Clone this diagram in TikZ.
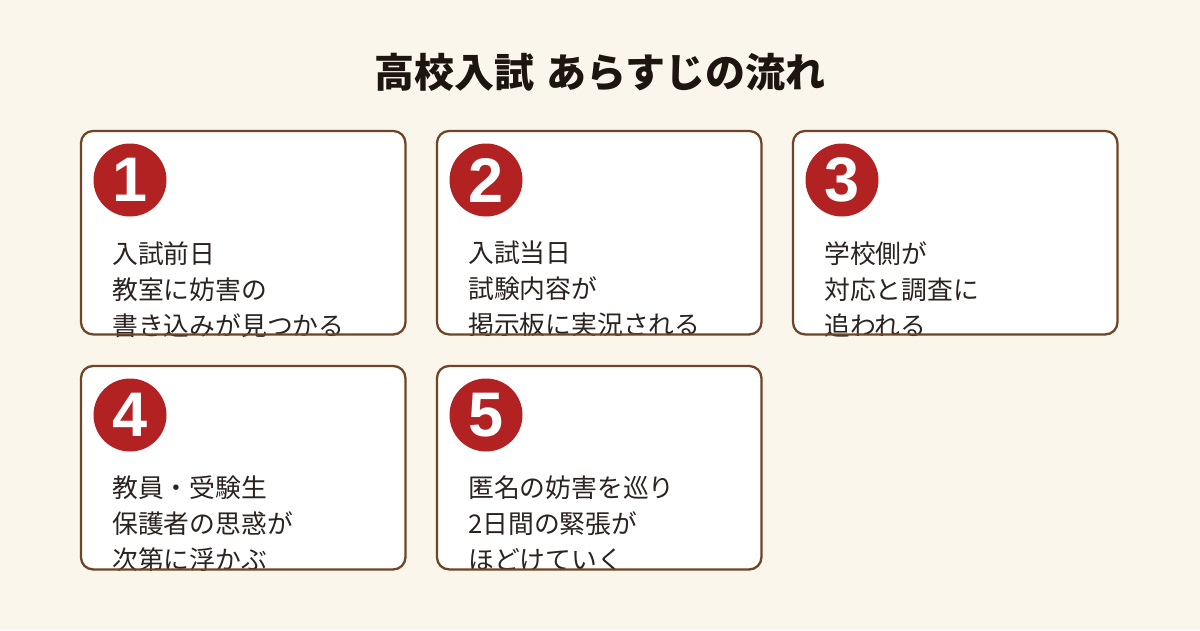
\documentclass[tikz,border=0pt]{standalone}
\usepackage{fontspec}
\setmainfont{Noto Sans CJK JP}
\newfontfamily\digitfont{Liberation Sans}
\usetikzlibrary{positioning}
\definecolor{paper}{HTML}{FAF6EB}
\definecolor{cardline}{HTML}{6E4526}
\definecolor{badgered}{HTML}{B22222}
\definecolor{inkdark}{HTML}{2A2320}
\definecolor{titleink}{HTML}{1E1510}
\tikzset{
  card/.style ={rectangle, rounded corners=12pt, fill=white, anchor=north west,
    minimum width=324pt, minimum height=203pt, inner sep=0pt},
  cardedge/.style={draw=cardline, line width=2.3pt, rounded corners=12pt},
  badge/.style={circle, fill=badgered, minimum size=73pt, inner sep=0pt,
    text=white, font=\digitfont\bfseries\fontsize{63}{63}\selectfont},
  story/.style={anchor=north west, align=left, inner sep=0pt, text=inkdark,
    font=\fontsize{25.8}{36}\selectfont},
  headline/.style={text=titleink, font=\bfseries\fontsize{40}{40}\selectfont}}

\begin{document}
\begin{tikzpicture}[x=1pt, y=-1pt]
\fill[paper] (0,0) rectangle (1200,630);
\useasboundingbox (0,0) rectangle (1200,630);

\node[headline] (title) at (600,72) {高校入試\hspace{0.3em}あらすじの流れ};

% cards
\node[card] (c1) at (81,131) {};
\node[card] (c2) at (437,131) {};
\node[card] (c3) at (793,131) {};
\node[card] (c4) at (81,366) {};
\node[card] (c5) at (437,366) {};

% numbers
\node[badge] (n1) at ([shift={(49,49)}]c1.north west) {1};
\node[badge] (n2) at ([shift={(49,49)}]c2.north west) {2};
\node[badge] (n3) at ([shift={(49,49)}]c3.north west) {3};
\node[badge] (n4) at ([shift={(49,49)}]c4.north west) {4};
\node[badge] (n5) at ([shift={(49,49)}]c5.north west) {5};

% story texts
\node[story] (s1) at ([shift={(31,110)}]c1.north west) {入試前日\\教室に妨害の\\書き込みが見つかる};
\node[story] (s2) at ([shift={(31,110)}]c2.north west) {入試当日\\試験内容が\\掲示板に実況される};
\node[story] (s3) at ([shift={(31,110)}]c3.north west) {学校側が\\対応と調査に\\追われる};
\node[story] (s4) at ([shift={(31,110)}]c4.north west) {教員・受験生\\保護者の思惑が\\次第に浮かぶ};
\node[story] (s5) at ([shift={(31,110)}]c5.north west) {匿名の妨害を巡り\\2日間の緊張が\\ほどけていく};

\foreach \c in {c1,c2,c3,c4,c5}
  \draw[cardedge] (\c.north west) rectangle (\c.south east);
\end{tikzpicture}
\end{document}
